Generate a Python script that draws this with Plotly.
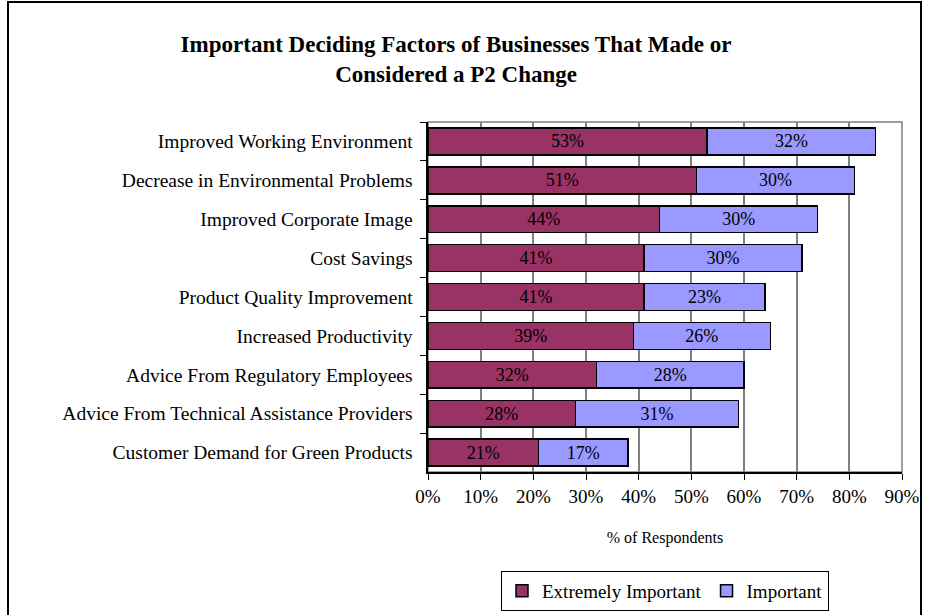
import plotly.graph_objects as go

categories = [
    "Improved Working Environment",
    "Decrease in Environmental Problems",
    "Improved Corporate Image",
    "Cost Savings",
    "Product Quality Improvement",
    "Increased Productivity",
    "Advice From Regulatory Employees",
    "Advice From Technical Assistance Providers",
    "Customer Demand for Green Products",
]
extremely_important = [53, 51, 44, 41, 41, 39, 32, 28, 21]
important = [32, 30, 30, 30, 23, 26, 28, 31, 17]
x_ticks = [0, 10, 20, 30, 40, 50, 60, 70, 80, 90]

FONT = "Liberation Serif"

fig = go.Figure()
fig.add_trace(go.Bar(
    y=categories, x=[v / 100 for v in extremely_important], orientation="h",
    name="Extremely Important",
    marker=dict(color="#993366", line=dict(color="black", width=1.5)),
    text=[f"{v}%" for v in extremely_important], textposition="inside",
    insidetextanchor="middle", textangle=0,
    textfont=dict(family=FONT, size=18, color="black"),
))
fig.add_trace(go.Bar(
    y=categories, x=[v / 100 for v in important], orientation="h",
    name="Important",
    marker=dict(color="#9999FF", line=dict(color="black", width=1.5)),
    text=[f"{v}%" for v in important], textposition="inside",
    insidetextanchor="middle", textangle=0,
    textfont=dict(family=FONT, size=18, color="black"),
))

fig.update_layout(
    width=927, height=615,
    barmode="stack", bargap=0.31,
    paper_bgcolor="white", plot_bgcolor="white",
    margin=dict(l=428, r=25, t=122, b=143, autoexpand=False),
    font=dict(family=FONT, size=16, color="black"),
    title=dict(
        text="<b>Important Deciding Factors of Businesses That Made or<br>Considered a P2 Change</b>",
        x=0.492, xanchor="center", yref="container", y=0.915, yanchor="top",
        font=dict(family=FONT, size=23, color="black"),
    ),
    showlegend=True,
    legend=dict(
        orientation="h", x=0.5, xanchor="center", y=-0.34, yanchor="middle",
        bordercolor="black", borderwidth=1, bgcolor="white",
        font=dict(family=FONT, size=19, color="black"),
        traceorder="normal", itemwidth=30,
    ),
    uniformtext=dict(minsize=10, mode="show"),
)

fig.update_xaxes(
    range=[0, 0.9], tickvals=[t / 100 for t in x_ticks],
    ticktext=[f"{t}%" for t in x_ticks],
    showgrid=True, gridcolor="#808080", gridwidth=1.5,
    showline=True, linecolor="black", linewidth=1.5,
    ticks="outside", ticklen=6, tickcolor="black",
    tickfont=dict(family=FONT, size=19, color="black"),
    title=dict(text="% of Respondents", font=dict(family=FONT, size=16, color="black"), standoff=26),
    zeroline=False, automargin=False,
)
fig.update_yaxes(
    autorange="reversed",
    showline=True, linecolor="black", linewidth=1.5,
    ticks="outside", ticklen=6, tickcolor="black", tickson="boundaries",
    showgrid=False,
    tickfont=dict(family=FONT, size=19.5, color="black"),
    ticksuffix="  ", automargin=False,
)

# plot area border (gray) and chart area border (black)
fig.add_shape(type="rect", xref="paper", yref="paper", x0=0, x1=1, y0=0, y1=1,
              line=dict(color="#808080", width=1.5), layer="below")
fig.add_shape(type="rect", xref="paper", yref="paper",
              x0=-420 / 474, x1=(921 - 428) / 474, y0=-(640 - 472) / 350, y1=(472 - 2) / 350,
              line=dict(color="black", width=2), layer="below")

fig.write_html("out.html")
